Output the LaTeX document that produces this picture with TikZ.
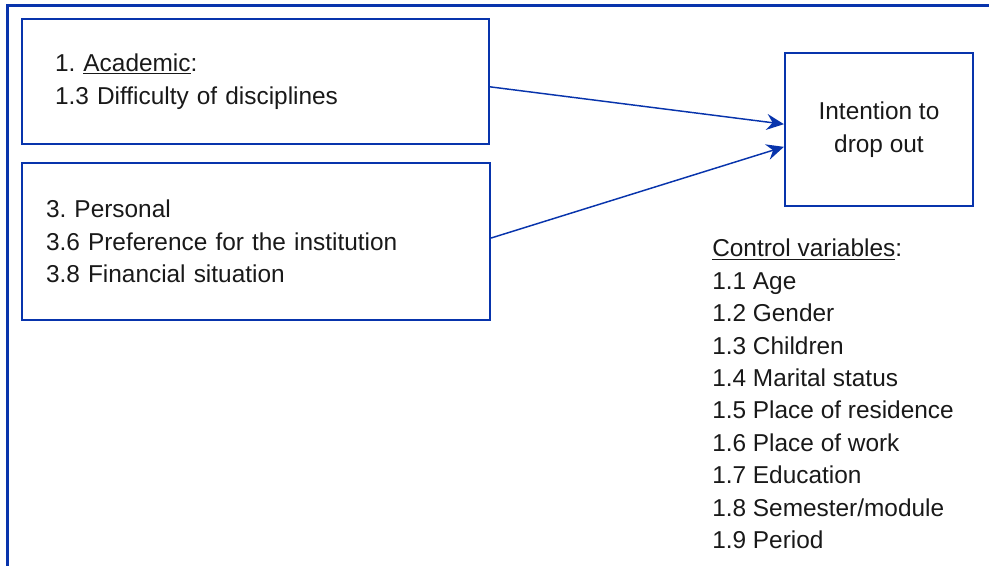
\documentclass[tikz,border=0pt]{standalone}
\usepackage{fontspec}
\setmainfont{Liberation Sans}
\usetikzlibrary{arrows.meta}
\definecolor{frameblue}{RGB}{8,52,172}
\frenchspacing
\begin{document}
\begin{tikzpicture}[x=0.75pt, y=-0.75pt,
    every node/.style={font=\fontsize{18.3}{24.3}\selectfont, text=black!90},
    factor/.style={draw=frameblue, line width=1.6pt, rectangle, align=left},
    link/.style={draw=frameblue, line width=1.1pt, -{Stealth[length=13pt,width=12pt,inset=4.5pt]}}]
    \useasboundingbox (0,0) rectangle (989,565);

    % frame runs off the page on the right and at the bottom
    \draw[frameblue, line width=1.6pt] (7.5,566) |- (990,5.5);

    \node[factor, minimum height=93.75pt, inner xsep=24.75pt, text width=300.75pt] (academic) at (255.5,81.5)
        {1. \underline{Academic}:\\1.3 Difficulty of disciplines};
    \node[factor, minimum height=117.75pt, inner xsep=18pt, text width=315pt] (personal) at (256,241.5)
        {3. Personal\\3.6 Preference for the institution\\3.8 Financial situation};
    \node[factor, minimum width=141pt, minimum height=114.75pt, align=center] (intention) at (879,129.5)
        {Intention to\\drop out};

    \node[anchor=north west, inner sep=0pt, align=left] (controls) at (712,239)
        {\underline{Control variables}:\\1.1 Age\\1.2 Gender\\1.3 Children\\1.4 Marital status\\
         1.5 Place of residence\\1.6 Place of work\\1.7 Education\\1.8 Semester/module\\1.9 Period};

    \draw[link] ([yshift=-4pt]academic.east) -- ([yshift=4pt]intention.west);
    \draw[link] ([yshift=2.6pt]personal.east) -- ([yshift=-13pt]intention.west);
\end{tikzpicture}
\end{document}
